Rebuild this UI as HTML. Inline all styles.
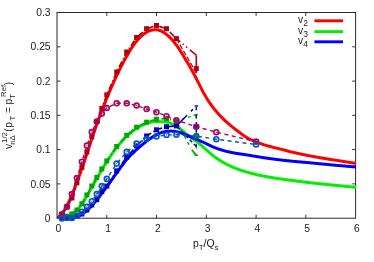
<!DOCTYPE html>
<html><head><meta charset="utf-8"><style>
html,body{margin:0;padding:0;background:#fff;}
body{width:374px;height:262px;position:relative;overflow:hidden;}
svg{display:block;will-change:transform;}
</style></head><body>
<svg width="374" height="262" viewBox="0 0 374 262" style="position:absolute;left:0;top:0">
<rect width="374" height="262" fill="#fff"/>
<defs><clipPath id="c"><rect x="57" y="12" width="299" height="206"/></clipPath></defs>
<g stroke="#2a2a2a" stroke-width="1" fill="none">
<rect x="57.0" y="12.5" width="298.6" height="205.7"/>
</g><g stroke="#333" stroke-width="1" fill="none">
<path d="M106.8,218.2 v-3.4 M106.8,12.5 v3.4"/>
<path d="M156.5,218.2 v-3.4 M156.5,12.5 v3.4"/>
<path d="M206.3,218.2 v-3.4 M206.3,12.5 v3.4"/>
<path d="M256.1,218.2 v-3.4 M256.1,12.5 v3.4"/>
<path d="M305.8,218.2 v-3.4 M305.8,12.5 v3.4"/>
<path d="M57.0,183.9 h3.4 M355.6,183.9 h-3.4"/>
<path d="M57.0,149.6 h3.4 M355.6,149.6 h-3.4"/>
<path d="M57.0,115.3 h3.4 M355.6,115.3 h-3.4"/>
<path d="M57.0,81.1 h3.4 M355.6,81.1 h-3.4"/>
<path d="M57.0,46.8 h3.4 M355.6,46.8 h-3.4"/>
</g>
<g fill="none" stroke-width="3" stroke-linejoin="round" clip-path="url(#c)">
<path d="M57.0,218.20 L57.5,217.78 L58.0,217.36 L58.5,216.92 L59.0,216.47 L59.5,216.00 L60.1,215.51 L60.6,214.99 L61.1,214.44 L61.6,213.87 L62.1,213.26 L62.6,212.61 L63.1,211.93 L63.6,211.22 L64.1,210.47 L64.6,209.69 L65.1,208.87 L65.7,208.02 L66.2,207.13 L66.7,206.21 L67.2,205.25 L67.7,204.26 L68.2,203.24 L68.7,202.19 L69.2,201.11 L69.7,200.00 L70.2,198.87 L70.7,197.71 L71.3,196.52 L71.8,195.32 L72.3,194.09 L72.8,192.84 L73.3,191.57 L73.8,190.29 L74.3,189.00 L74.8,187.69 L75.3,186.37 L75.8,185.03 L76.3,183.70 L76.9,182.35 L77.4,181.00 L77.9,179.64 L78.4,178.27 L78.9,176.89 L79.4,175.51 L79.9,174.12 L80.4,172.71 L80.9,171.30 L81.4,169.87 L81.9,168.42 L82.5,166.96 L83.0,165.49 L83.5,164.01 L84.0,162.52 L84.5,161.01 L85.0,159.50 L85.5,157.98 L86.0,156.45 L86.5,154.93 L87.0,153.40 L87.6,151.86 L88.1,150.33 L88.6,148.80 L89.1,147.27 L89.6,145.74 L90.1,144.20 L90.6,142.67 L91.1,141.14 L91.6,139.61 L92.1,138.08 L92.6,136.55 L93.2,135.02 L93.7,133.50 L94.2,131.98 L94.7,130.47 L95.2,128.97 L95.7,127.47 L96.2,125.99 L96.7,124.53 L97.2,123.07 L97.7,121.63 L98.2,120.21 L98.8,118.80 L99.3,117.40 L99.8,116.02 L100.3,114.65 L100.8,113.30 L101.3,111.95 L101.8,110.62 L102.3,109.29 L102.8,107.98 L103.3,106.68 L103.8,105.39 L104.4,104.11 L104.9,102.84 L105.4,101.58 L105.9,100.33 L106.4,99.09 L106.9,97.85 L107.4,96.63 L107.9,95.42 L108.4,94.21 L108.9,93.01 L109.4,91.83 L110.0,90.64 L110.5,89.47 L111.0,88.30 L111.5,87.15 L112.0,85.99 L112.5,84.85 L113.0,83.71 L113.5,82.59 L114.0,81.47 L114.5,80.35 L115.0,79.25 L115.6,78.15 L116.1,77.06 L116.6,75.98 L117.1,74.90 L117.6,73.83 L118.1,72.77 L118.6,71.71 L119.1,70.67 L119.6,69.62 L120.1,68.59 L120.6,67.56 L121.2,66.55 L121.7,65.54 L122.2,64.54 L122.7,63.55 L123.2,62.57 L123.7,61.60 L124.2,60.65 L124.7,59.70 L125.2,58.77 L125.7,57.85 L126.2,56.94 L126.8,56.05 L127.3,55.16 L127.8,54.28 L128.3,53.42 L128.8,52.56 L129.3,51.72 L129.8,50.89 L130.3,50.06 L130.8,49.25 L131.3,48.45 L131.8,47.67 L132.4,46.90 L132.9,46.15 L133.4,45.41 L133.9,44.69 L134.4,43.99 L134.9,43.31 L135.4,42.65 L135.9,42.01 L136.4,41.39 L136.9,40.78 L137.5,40.19 L138.0,39.62 L138.5,39.06 L139.0,38.52 L139.5,37.99 L140.0,37.48 L140.5,36.98 L141.0,36.49 L141.5,36.02 L142.0,35.56 L142.5,35.12 L143.1,34.70 L143.6,34.29 L144.1,33.90 L144.6,33.53 L145.1,33.17 L145.6,32.84 L146.1,32.52 L146.6,32.22 L147.1,31.93 L147.6,31.67 L148.1,31.42 L148.7,31.19 L149.2,30.98 L149.7,30.78 L150.2,30.60 L150.7,30.44 L151.2,30.29 L151.7,30.17 L152.2,30.05 L152.7,29.96 L153.2,29.88 L153.7,29.82 L154.3,29.77 L154.8,29.75 L155.3,29.74 L155.8,29.74 L156.3,29.77 L156.8,29.81 L157.3,29.88 L157.8,29.97 L158.3,30.07 L158.8,30.20 L159.3,30.35 L159.9,30.52 L160.4,30.71 L160.9,30.92 L161.4,31.15 L161.9,31.41 L162.4,31.68 L162.9,31.97 L163.4,32.28 L163.9,32.61 L164.4,32.95 L164.9,33.30 L165.5,33.67 L166.0,34.06 L166.5,34.46 L167.0,34.87 L167.5,35.29 L168.0,35.73 L168.5,36.19 L169.0,36.66 L169.5,37.14 L170.0,37.64 L170.5,38.16 L171.1,38.69 L171.6,39.24 L172.1,39.80 L172.6,40.37 L173.1,40.96 L173.6,41.57 L174.1,42.19 L174.6,42.82 L175.1,43.46 L175.6,44.12 L176.1,44.79 L176.7,45.48 L177.2,46.18 L177.7,46.90 L178.2,47.63 L178.7,48.37 L179.2,49.13 L179.7,49.91 L180.2,50.69 L180.7,51.49 L181.2,52.31 L181.7,53.13 L182.3,53.96 L182.8,54.79 L183.3,55.63 L183.8,56.48 L184.3,57.33 L184.8,58.18 L185.3,59.04 L185.8,59.90 L186.3,60.76 L186.8,61.62 L187.4,62.49 L187.9,63.35 L188.4,64.22 L188.9,65.10 L189.4,65.98 L189.9,66.86 L190.4,67.74 L190.9,68.63 L191.4,69.53 L191.9,70.43 L192.4,71.34 L193.0,72.26 L193.5,73.19 L194.0,74.13 L194.5,75.09 L195.0,76.05 L195.5,77.03 L196.0,78.01 L196.5,79.01 L197.0,80.01 L197.5,81.02 L198.0,82.04 L198.6,83.05 L199.1,84.07 L199.6,85.09 L200.1,86.10 L200.6,87.11 L201.1,88.12 L201.6,89.11 L202.1,90.09 L202.6,91.06 L203.1,92.02 L203.6,92.96 L204.2,93.89 L204.7,94.80 L205.2,95.69 L205.7,96.56 L206.2,97.42 L206.7,98.25 L207.2,99.07 L207.7,99.87 L208.2,100.66 L208.7,101.43 L209.2,102.19 L209.8,102.93 L210.3,103.66 L210.8,104.38 L211.3,105.08 L211.8,105.77 L212.3,106.45 L212.8,107.12 L213.3,107.78 L213.8,108.43 L214.3,109.07 L214.8,109.70 L215.4,110.32 L215.9,110.93 L216.4,111.53 L216.9,112.12 L217.4,112.70 L217.9,113.28 L218.4,113.85 L218.9,114.40 L219.4,114.96 L219.9,115.50 L220.4,116.04 L221.0,116.57 L221.5,117.09 L222.0,117.61 L222.5,118.12 L223.0,118.62 L223.5,119.12 L224.0,119.61 L224.5,120.10 L225.0,120.58 L225.5,121.05 L226.0,121.52 L226.6,121.99 L227.1,122.45 L227.6,122.90 L228.1,123.35 L228.6,123.80 L229.1,124.24 L229.6,124.68 L230.1,125.11 L230.6,125.54 L231.1,125.96 L231.6,126.38 L232.2,126.80 L232.7,127.21 L233.2,127.61 L233.7,128.02 L234.2,128.42 L234.7,128.81 L235.2,129.20 L235.7,129.59 L236.2,129.98 L236.7,130.37 L237.3,130.75 L237.8,131.14 L238.3,131.52 L238.8,131.90 L239.3,132.28 L239.8,132.66 L240.3,133.04 L240.8,133.42 L241.3,133.80 L241.8,134.18 L242.3,134.56 L242.9,134.93 L243.4,135.30 L243.9,135.66 L244.4,136.01 L244.9,136.36 L245.4,136.70 L245.9,137.02 L246.4,137.34 L246.9,137.65 L247.4,137.94 L247.9,138.23 L248.5,138.51 L249.0,138.77 L249.5,139.03 L250.0,139.28 L250.5,139.53 L251.0,139.76 L251.5,140.00 L252.0,140.22 L252.5,140.44 L253.0,140.66 L253.5,140.88 L254.1,141.09 L254.6,141.30 L255.1,141.51 L255.6,141.72 L256.1,141.92 L256.6,142.12 L257.1,142.32 L257.6,142.52 L258.1,142.71 L258.6,142.90 L259.1,143.09 L259.7,143.28 L260.2,143.46 L260.7,143.64 L261.2,143.82 L261.7,144.00 L262.2,144.17 L262.7,144.33 L263.2,144.50 L263.7,144.66 L264.2,144.82 L264.7,144.98 L265.3,145.13 L265.8,145.28 L266.3,145.43 L266.8,145.58 L267.3,145.72 L267.8,145.86 L268.3,146.00 L268.8,146.14 L269.3,146.28 L269.8,146.42 L270.3,146.55 L270.9,146.69 L271.4,146.82 L271.9,146.95 L272.4,147.08 L272.9,147.21 L273.4,147.34 L273.9,147.47 L274.4,147.60 L274.9,147.73 L275.4,147.85 L275.9,147.98 L276.5,148.11 L277.0,148.24 L277.5,148.37 L278.0,148.49 L278.5,148.62 L279.0,148.75 L279.5,148.88 L280.0,149.01 L280.5,149.14 L281.0,149.27 L281.5,149.40 L282.1,149.53 L282.6,149.66 L283.1,149.79 L283.6,149.92 L284.1,150.05 L284.6,150.18 L285.1,150.31 L285.6,150.44 L286.1,150.57 L286.6,150.70 L287.2,150.83 L287.7,150.96 L288.2,151.09 L288.7,151.22 L289.2,151.34 L289.7,151.47 L290.2,151.60 L290.7,151.72 L291.2,151.85 L291.7,151.98 L292.2,152.10 L292.8,152.22 L293.3,152.35 L293.8,152.47 L294.3,152.59 L294.8,152.71 L295.3,152.83 L295.8,152.95 L296.3,153.07 L296.8,153.18 L297.3,153.30 L297.8,153.41 L298.4,153.53 L298.9,153.64 L299.4,153.75 L299.9,153.86 L300.4,153.97 L300.9,154.08 L301.4,154.19 L301.9,154.29 L302.4,154.40 L302.9,154.51 L303.4,154.61 L304.0,154.71 L304.5,154.82 L305.0,154.92 L305.5,155.02 L306.0,155.12 L306.5,155.22 L307.0,155.32 L307.5,155.42 L308.0,155.52 L308.5,155.62 L309.0,155.71 L309.6,155.81 L310.1,155.91 L310.6,156.00 L311.1,156.10 L311.6,156.19 L312.1,156.29 L312.6,156.38 L313.1,156.47 L313.6,156.57 L314.1,156.66 L314.6,156.75 L315.2,156.84 L315.7,156.93 L316.2,157.02 L316.7,157.11 L317.2,157.20 L317.7,157.29 L318.2,157.38 L318.7,157.47 L319.2,157.56 L319.7,157.65 L320.2,157.74 L320.8,157.82 L321.3,157.91 L321.8,158.00 L322.3,158.08 L322.8,158.17 L323.3,158.25 L323.8,158.34 L324.3,158.42 L324.8,158.51 L325.3,158.59 L325.8,158.67 L326.4,158.76 L326.9,158.84 L327.4,158.92 L327.9,159.00 L328.4,159.08 L328.9,159.16 L329.4,159.24 L329.9,159.32 L330.4,159.40 L330.9,159.48 L331.4,159.56 L332.0,159.64 L332.5,159.72 L333.0,159.80 L333.5,159.88 L334.0,159.96 L334.5,160.04 L335.0,160.12 L335.5,160.20 L336.0,160.28 L336.5,160.36 L337.1,160.44 L337.6,160.52 L338.1,160.60 L338.6,160.68 L339.1,160.76 L339.6,160.84 L340.1,160.92 L340.6,161.00 L341.1,161.08 L341.6,161.16 L342.1,161.24 L342.7,161.32 L343.2,161.40 L343.7,161.48 L344.2,161.56 L344.7,161.64 L345.2,161.72 L345.7,161.80 L346.2,161.88 L346.7,161.96 L347.2,162.04 L347.7,162.12 L348.3,162.20 L348.8,162.28 L349.3,162.35 L349.8,162.43 L350.3,162.51 L350.8,162.59 L351.3,162.67 L351.8,162.75 L352.3,162.83 L352.8,162.91 L353.3,162.99 L353.9,163.07 L354.4,163.15 L354.9,163.23 L355.4,163.31 L355.9,163.38 L356.4,163.46 L356.9,163.54 L357.4,163.62 L357.9,163.70 L358.4,163.78 L358.9,163.86 L359.5,163.94 L360.0,164.02 L360.5,164.10 L361.0,164.18 L361.5,164.26 L362.0,164.34" stroke="#ff0000"/>
<path d="M57.0,218.20 L57.5,218.15 L58.0,218.09 L58.5,218.03 L59.0,217.97 L59.5,217.90 L60.1,217.83 L60.6,217.75 L61.1,217.67 L61.6,217.58 L62.1,217.48 L62.6,217.37 L63.1,217.26 L63.6,217.14 L64.1,217.00 L64.6,216.86 L65.1,216.71 L65.7,216.56 L66.2,216.39 L66.7,216.21 L67.2,216.02 L67.7,215.83 L68.2,215.62 L68.7,215.41 L69.2,215.18 L69.7,214.94 L70.2,214.69 L70.7,214.43 L71.3,214.15 L71.8,213.86 L72.3,213.56 L72.8,213.24 L73.3,212.91 L73.8,212.55 L74.3,212.18 L74.8,211.80 L75.3,211.39 L75.8,210.97 L76.3,210.52 L76.9,210.05 L77.4,209.56 L77.9,209.04 L78.4,208.51 L78.9,207.94 L79.4,207.36 L79.9,206.75 L80.4,206.11 L80.9,205.45 L81.4,204.76 L81.9,204.05 L82.5,203.32 L83.0,202.56 L83.5,201.78 L84.0,200.98 L84.5,200.16 L85.0,199.33 L85.5,198.48 L86.0,197.61 L86.5,196.74 L87.0,195.85 L87.6,194.96 L88.1,194.07 L88.6,193.16 L89.1,192.26 L89.6,191.36 L90.1,190.45 L90.6,189.55 L91.1,188.65 L91.6,187.75 L92.1,186.86 L92.6,185.97 L93.2,185.08 L93.7,184.20 L94.2,183.32 L94.7,182.44 L95.2,181.56 L95.7,180.67 L96.2,179.79 L96.7,178.90 L97.2,178.01 L97.7,177.11 L98.2,176.21 L98.8,175.32 L99.3,174.42 L99.8,173.52 L100.3,172.62 L100.8,171.73 L101.3,170.85 L101.8,169.98 L102.3,169.11 L102.8,168.25 L103.3,167.40 L103.8,166.57 L104.4,165.74 L104.9,164.92 L105.4,164.10 L105.9,163.30 L106.4,162.49 L106.9,161.70 L107.4,160.91 L107.9,160.12 L108.4,159.34 L108.9,158.57 L109.4,157.79 L110.0,157.02 L110.5,156.26 L111.0,155.50 L111.5,154.75 L112.0,154.00 L112.5,153.26 L113.0,152.53 L113.5,151.81 L114.0,151.09 L114.5,150.39 L115.0,149.69 L115.6,149.01 L116.1,148.34 L116.6,147.67 L117.1,147.02 L117.6,146.37 L118.1,145.74 L118.6,145.12 L119.1,144.50 L119.6,143.89 L120.1,143.30 L120.6,142.71 L121.2,142.13 L121.7,141.55 L122.2,140.99 L122.7,140.44 L123.2,139.89 L123.7,139.35 L124.2,138.83 L124.7,138.31 L125.2,137.80 L125.7,137.30 L126.2,136.81 L126.8,136.33 L127.3,135.85 L127.8,135.39 L128.3,134.93 L128.8,134.48 L129.3,134.03 L129.8,133.60 L130.3,133.17 L130.8,132.75 L131.3,132.34 L131.8,131.93 L132.4,131.54 L132.9,131.15 L133.4,130.76 L133.9,130.39 L134.4,130.03 L134.9,129.67 L135.4,129.32 L135.9,128.97 L136.4,128.64 L136.9,128.31 L137.5,127.99 L138.0,127.67 L138.5,127.36 L139.0,127.06 L139.5,126.76 L140.0,126.47 L140.5,126.18 L141.0,125.90 L141.5,125.63 L142.0,125.37 L142.5,125.11 L143.1,124.87 L143.6,124.63 L144.1,124.40 L144.6,124.19 L145.1,123.98 L145.6,123.79 L146.1,123.60 L146.6,123.43 L147.1,123.26 L147.6,123.10 L148.1,122.95 L148.7,122.81 L149.2,122.67 L149.7,122.54 L150.2,122.42 L150.7,122.31 L151.2,122.20 L151.7,122.10 L152.2,122.01 L152.7,121.92 L153.2,121.85 L153.7,121.78 L154.3,121.73 L154.8,121.68 L155.3,121.64 L155.8,121.61 L156.3,121.59 L156.8,121.58 L157.3,121.57 L157.8,121.57 L158.3,121.58 L158.8,121.59 L159.3,121.60 L159.9,121.62 L160.4,121.64 L160.9,121.66 L161.4,121.69 L161.9,121.72 L162.4,121.75 L162.9,121.79 L163.4,121.83 L163.9,121.87 L164.4,121.93 L164.9,121.98 L165.5,122.05 L166.0,122.12 L166.5,122.20 L167.0,122.29 L167.5,122.39 L168.0,122.51 L168.5,122.64 L169.0,122.78 L169.5,122.93 L170.0,123.10 L170.5,123.27 L171.1,123.46 L171.6,123.66 L172.1,123.87 L172.6,124.09 L173.1,124.32 L173.6,124.56 L174.1,124.81 L174.6,125.07 L175.1,125.34 L175.6,125.61 L176.1,125.90 L176.7,126.20 L177.2,126.52 L177.7,126.85 L178.2,127.19 L178.7,127.55 L179.2,127.92 L179.7,128.31 L180.2,128.72 L180.7,129.13 L181.2,129.56 L181.7,129.99 L182.3,130.43 L182.8,130.88 L183.3,131.33 L183.8,131.79 L184.3,132.24 L184.8,132.69 L185.3,133.13 L185.8,133.57 L186.3,134.01 L186.8,134.43 L187.4,134.85 L187.9,135.25 L188.4,135.65 L188.9,136.04 L189.4,136.42 L189.9,136.80 L190.4,137.16 L190.9,137.53 L191.4,137.88 L191.9,138.24 L192.4,138.59 L193.0,138.94 L193.5,139.29 L194.0,139.65 L194.5,140.00 L195.0,140.36 L195.5,140.73 L196.0,141.10 L196.5,141.48 L197.0,141.86 L197.5,142.25 L198.0,142.65 L198.6,143.06 L199.1,143.47 L199.6,143.90 L200.1,144.33 L200.6,144.77 L201.1,145.21 L201.6,145.66 L202.1,146.11 L202.6,146.56 L203.1,147.02 L203.6,147.48 L204.2,147.93 L204.7,148.39 L205.2,148.85 L205.7,149.30 L206.2,149.75 L206.7,150.20 L207.2,150.65 L207.7,151.09 L208.2,151.53 L208.7,151.97 L209.2,152.41 L209.8,152.84 L210.3,153.28 L210.8,153.70 L211.3,154.13 L211.8,154.55 L212.3,154.97 L212.8,155.38 L213.3,155.78 L213.8,156.18 L214.3,156.58 L214.8,156.96 L215.4,157.34 L215.9,157.72 L216.4,158.08 L216.9,158.44 L217.4,158.79 L217.9,159.14 L218.4,159.48 L218.9,159.81 L219.4,160.14 L219.9,160.46 L220.4,160.78 L221.0,161.09 L221.5,161.40 L222.0,161.70 L222.5,162.00 L223.0,162.29 L223.5,162.58 L224.0,162.87 L224.5,163.15 L225.0,163.43 L225.5,163.70 L226.0,163.97 L226.6,164.23 L227.1,164.49 L227.6,164.75 L228.1,165.00 L228.6,165.25 L229.1,165.50 L229.6,165.74 L230.1,165.98 L230.6,166.21 L231.1,166.45 L231.6,166.68 L232.2,166.91 L232.7,167.13 L233.2,167.35 L233.7,167.57 L234.2,167.78 L234.7,167.99 L235.2,168.20 L235.7,168.40 L236.2,168.60 L236.7,168.80 L237.3,168.99 L237.8,169.18 L238.3,169.36 L238.8,169.54 L239.3,169.72 L239.8,169.89 L240.3,170.07 L240.8,170.23 L241.3,170.40 L241.8,170.56 L242.3,170.73 L242.9,170.89 L243.4,171.04 L243.9,171.20 L244.4,171.35 L244.9,171.51 L245.4,171.66 L245.9,171.81 L246.4,171.95 L246.9,172.10 L247.4,172.24 L247.9,172.39 L248.5,172.53 L249.0,172.67 L249.5,172.81 L250.0,172.95 L250.5,173.08 L251.0,173.22 L251.5,173.35 L252.0,173.48 L252.5,173.61 L253.0,173.74 L253.5,173.87 L254.1,174.00 L254.6,174.12 L255.1,174.24 L255.6,174.37 L256.1,174.49 L256.6,174.61 L257.1,174.72 L257.6,174.84 L258.1,174.96 L258.6,175.07 L259.1,175.18 L259.7,175.29 L260.2,175.40 L260.7,175.51 L261.2,175.62 L261.7,175.73 L262.2,175.83 L262.7,175.93 L263.2,176.04 L263.7,176.14 L264.2,176.24 L264.7,176.34 L265.3,176.43 L265.8,176.53 L266.3,176.62 L266.8,176.72 L267.3,176.81 L267.8,176.90 L268.3,176.99 L268.8,177.08 L269.3,177.17 L269.8,177.26 L270.3,177.34 L270.9,177.43 L271.4,177.51 L271.9,177.60 L272.4,177.68 L272.9,177.76 L273.4,177.84 L273.9,177.92 L274.4,178.00 L274.9,178.08 L275.4,178.15 L275.9,178.23 L276.5,178.31 L277.0,178.38 L277.5,178.46 L278.0,178.53 L278.5,178.61 L279.0,178.68 L279.5,178.75 L280.0,178.83 L280.5,178.90 L281.0,178.97 L281.5,179.04 L282.1,179.11 L282.6,179.18 L283.1,179.25 L283.6,179.32 L284.1,179.39 L284.6,179.46 L285.1,179.53 L285.6,179.60 L286.1,179.67 L286.6,179.74 L287.2,179.81 L287.7,179.88 L288.2,179.95 L288.7,180.02 L289.2,180.09 L289.7,180.16 L290.2,180.23 L290.7,180.30 L291.2,180.36 L291.7,180.43 L292.2,180.50 L292.8,180.57 L293.3,180.64 L293.8,180.70 L294.3,180.77 L294.8,180.84 L295.3,180.90 L295.8,180.97 L296.3,181.04 L296.8,181.10 L297.3,181.17 L297.8,181.23 L298.4,181.30 L298.9,181.36 L299.4,181.42 L299.9,181.49 L300.4,181.55 L300.9,181.62 L301.4,181.68 L301.9,181.74 L302.4,181.80 L302.9,181.86 L303.4,181.93 L304.0,181.99 L304.5,182.05 L305.0,182.11 L305.5,182.17 L306.0,182.23 L306.5,182.29 L307.0,182.35 L307.5,182.41 L308.0,182.47 L308.5,182.53 L309.0,182.59 L309.6,182.65 L310.1,182.70 L310.6,182.76 L311.1,182.82 L311.6,182.88 L312.1,182.93 L312.6,182.99 L313.1,183.05 L313.6,183.10 L314.1,183.16 L314.6,183.21 L315.2,183.27 L315.7,183.32 L316.2,183.38 L316.7,183.43 L317.2,183.49 L317.7,183.54 L318.2,183.60 L318.7,183.65 L319.2,183.70 L319.7,183.76 L320.2,183.81 L320.8,183.86 L321.3,183.92 L321.8,183.97 L322.3,184.02 L322.8,184.07 L323.3,184.13 L323.8,184.18 L324.3,184.23 L324.8,184.28 L325.3,184.33 L325.8,184.39 L326.4,184.44 L326.9,184.49 L327.4,184.54 L327.9,184.59 L328.4,184.64 L328.9,184.69 L329.4,184.74 L329.9,184.79 L330.4,184.85 L330.9,184.90 L331.4,184.95 L332.0,185.00 L332.5,185.05 L333.0,185.10 L333.5,185.15 L334.0,185.20 L334.5,185.25 L335.0,185.30 L335.5,185.35 L336.0,185.40 L336.5,185.45 L337.1,185.50 L337.6,185.55 L338.1,185.60 L338.6,185.65 L339.1,185.70 L339.6,185.75 L340.1,185.80 L340.6,185.85 L341.1,185.90 L341.6,185.95 L342.1,186.00 L342.7,186.05 L343.2,186.10 L343.7,186.15 L344.2,186.19 L344.7,186.24 L345.2,186.29 L345.7,186.34 L346.2,186.39 L346.7,186.44 L347.2,186.48 L347.7,186.53 L348.3,186.58 L348.8,186.63 L349.3,186.68 L349.8,186.72 L350.3,186.77 L350.8,186.82 L351.3,186.87 L351.8,186.91 L352.3,186.96 L352.8,187.01 L353.3,187.06 L353.9,187.10 L354.4,187.15 L354.9,187.20 L355.4,187.25 L355.9,187.29 L356.4,187.34 L356.9,187.39 L357.4,187.44 L357.9,187.48 L358.4,187.53 L358.9,187.58 L359.5,187.63 L360.0,187.68 L360.5,187.73 L361.0,187.77 L361.5,187.82 L362.0,187.87" stroke="#00f000"/>
<path d="M57.0,218.20 L57.5,218.20 L58.0,218.20 L58.5,218.20 L59.0,218.20 L59.5,218.20 L60.1,218.20 L60.6,218.20 L61.1,218.20 L61.6,218.20 L62.1,218.20 L62.6,218.20 L63.1,218.20 L63.6,218.20 L64.1,218.20 L64.6,218.20 L65.1,218.19 L65.7,218.19 L66.2,218.18 L66.7,218.18 L67.2,218.17 L67.7,218.16 L68.2,218.14 L68.7,218.12 L69.2,218.10 L69.7,218.07 L70.2,218.04 L70.7,218.00 L71.3,217.95 L71.8,217.89 L72.3,217.83 L72.8,217.75 L73.3,217.66 L73.8,217.56 L74.3,217.45 L74.8,217.32 L75.3,217.18 L75.8,217.03 L76.3,216.87 L76.9,216.69 L77.4,216.50 L77.9,216.30 L78.4,216.08 L78.9,215.85 L79.4,215.60 L79.9,215.34 L80.4,215.07 L80.9,214.79 L81.4,214.49 L81.9,214.17 L82.5,213.85 L83.0,213.51 L83.5,213.15 L84.0,212.79 L84.5,212.41 L85.0,212.01 L85.5,211.61 L86.0,211.19 L86.5,210.76 L87.0,210.31 L87.6,209.86 L88.1,209.39 L88.6,208.91 L89.1,208.42 L89.6,207.92 L90.1,207.41 L90.6,206.88 L91.1,206.35 L91.6,205.81 L92.1,205.26 L92.6,204.71 L93.2,204.14 L93.7,203.56 L94.2,202.98 L94.7,202.39 L95.2,201.79 L95.7,201.18 L96.2,200.56 L96.7,199.93 L97.2,199.29 L97.7,198.64 L98.2,197.99 L98.8,197.33 L99.3,196.67 L99.8,196.00 L100.3,195.32 L100.8,194.65 L101.3,193.98 L101.8,193.30 L102.3,192.63 L102.8,191.96 L103.3,191.29 L103.8,190.62 L104.4,189.95 L104.9,189.27 L105.4,188.60 L105.9,187.93 L106.4,187.25 L106.9,186.57 L107.4,185.88 L107.9,185.19 L108.4,184.50 L108.9,183.80 L109.4,183.10 L110.0,182.39 L110.5,181.68 L111.0,180.97 L111.5,180.26 L112.0,179.54 L112.5,178.82 L113.0,178.11 L113.5,177.39 L114.0,176.67 L114.5,175.96 L115.0,175.24 L115.6,174.52 L116.1,173.81 L116.6,173.09 L117.1,172.38 L117.6,171.66 L118.1,170.95 L118.6,170.23 L119.1,169.52 L119.6,168.81 L120.1,168.10 L120.6,167.39 L121.2,166.68 L121.7,165.98 L122.2,165.29 L122.7,164.60 L123.2,163.92 L123.7,163.24 L124.2,162.58 L124.7,161.93 L125.2,161.29 L125.7,160.67 L126.2,160.05 L126.8,159.45 L127.3,158.86 L127.8,158.29 L128.3,157.72 L128.8,157.17 L129.3,156.63 L129.8,156.09 L130.3,155.57 L130.8,155.06 L131.3,154.55 L131.8,154.05 L132.4,153.56 L132.9,153.07 L133.4,152.58 L133.9,152.11 L134.4,151.63 L134.9,151.16 L135.4,150.69 L135.9,150.23 L136.4,149.76 L136.9,149.30 L137.5,148.85 L138.0,148.39 L138.5,147.94 L139.0,147.49 L139.5,147.04 L140.0,146.60 L140.5,146.16 L141.0,145.72 L141.5,145.29 L142.0,144.86 L142.5,144.43 L143.1,144.01 L143.6,143.60 L144.1,143.18 L144.6,142.78 L145.1,142.37 L145.6,141.97 L146.1,141.58 L146.6,141.19 L147.1,140.81 L147.6,140.43 L148.1,140.05 L148.7,139.68 L149.2,139.32 L149.7,138.96 L150.2,138.61 L150.7,138.26 L151.2,137.92 L151.7,137.59 L152.2,137.26 L152.7,136.93 L153.2,136.62 L153.7,136.31 L154.3,136.00 L154.8,135.70 L155.3,135.41 L155.8,135.13 L156.3,134.85 L156.8,134.58 L157.3,134.32 L157.8,134.07 L158.3,133.83 L158.8,133.61 L159.3,133.39 L159.9,133.18 L160.4,132.98 L160.9,132.79 L161.4,132.62 L161.9,132.45 L162.4,132.29 L162.9,132.14 L163.4,132.00 L163.9,131.87 L164.4,131.75 L164.9,131.65 L165.5,131.55 L166.0,131.46 L166.5,131.39 L167.0,131.32 L167.5,131.27 L168.0,131.22 L168.5,131.18 L169.0,131.15 L169.5,131.13 L170.0,131.11 L170.5,131.10 L171.1,131.10 L171.6,131.11 L172.1,131.13 L172.6,131.16 L173.1,131.19 L173.6,131.24 L174.1,131.29 L174.6,131.36 L175.1,131.44 L175.6,131.52 L176.1,131.61 L176.7,131.72 L177.2,131.83 L177.7,131.95 L178.2,132.08 L178.7,132.22 L179.2,132.36 L179.7,132.52 L180.2,132.68 L180.7,132.84 L181.2,133.01 L181.7,133.19 L182.3,133.37 L182.8,133.55 L183.3,133.74 L183.8,133.94 L184.3,134.13 L184.8,134.33 L185.3,134.54 L185.8,134.74 L186.3,134.95 L186.8,135.16 L187.4,135.37 L187.9,135.59 L188.4,135.80 L188.9,136.02 L189.4,136.23 L189.9,136.45 L190.4,136.67 L190.9,136.89 L191.4,137.10 L191.9,137.32 L192.4,137.54 L193.0,137.75 L193.5,137.97 L194.0,138.19 L194.5,138.41 L195.0,138.63 L195.5,138.85 L196.0,139.07 L196.5,139.29 L197.0,139.51 L197.5,139.73 L198.0,139.95 L198.6,140.17 L199.1,140.40 L199.6,140.62 L200.1,140.84 L200.6,141.07 L201.1,141.30 L201.6,141.52 L202.1,141.75 L202.6,141.98 L203.1,142.21 L203.6,142.44 L204.2,142.67 L204.7,142.91 L205.2,143.14 L205.7,143.38 L206.2,143.62 L206.7,143.86 L207.2,144.11 L207.7,144.35 L208.2,144.60 L208.7,144.85 L209.2,145.10 L209.8,145.35 L210.3,145.59 L210.8,145.84 L211.3,146.08 L211.8,146.32 L212.3,146.56 L212.8,146.79 L213.3,147.02 L213.8,147.24 L214.3,147.46 L214.8,147.67 L215.4,147.87 L215.9,148.07 L216.4,148.26 L216.9,148.45 L217.4,148.63 L217.9,148.81 L218.4,148.98 L218.9,149.15 L219.4,149.32 L219.9,149.48 L220.4,149.64 L221.0,149.80 L221.5,149.95 L222.0,150.10 L222.5,150.25 L223.0,150.40 L223.5,150.54 L224.0,150.68 L224.5,150.82 L225.0,150.96 L225.5,151.09 L226.0,151.22 L226.6,151.35 L227.1,151.48 L227.6,151.60 L228.1,151.72 L228.6,151.84 L229.1,151.96 L229.6,152.07 L230.1,152.18 L230.6,152.29 L231.1,152.40 L231.6,152.50 L232.2,152.60 L232.7,152.70 L233.2,152.80 L233.7,152.89 L234.2,152.99 L234.7,153.08 L235.2,153.16 L235.7,153.25 L236.2,153.34 L236.7,153.42 L237.3,153.50 L237.8,153.58 L238.3,153.66 L238.8,153.74 L239.3,153.81 L239.8,153.89 L240.3,153.97 L240.8,154.04 L241.3,154.11 L241.8,154.19 L242.3,154.26 L242.9,154.34 L243.4,154.41 L243.9,154.48 L244.4,154.56 L244.9,154.64 L245.4,154.71 L245.9,154.79 L246.4,154.87 L246.9,154.94 L247.4,155.02 L247.9,155.10 L248.5,155.18 L249.0,155.27 L249.5,155.35 L250.0,155.43 L250.5,155.52 L251.0,155.60 L251.5,155.69 L252.0,155.77 L252.5,155.86 L253.0,155.94 L253.5,156.03 L254.1,156.12 L254.6,156.20 L255.1,156.29 L255.6,156.38 L256.1,156.46 L256.6,156.55 L257.1,156.64 L257.6,156.72 L258.1,156.81 L258.6,156.89 L259.1,156.98 L259.7,157.06 L260.2,157.14 L260.7,157.23 L261.2,157.31 L261.7,157.39 L262.2,157.47 L262.7,157.55 L263.2,157.62 L263.7,157.70 L264.2,157.78 L264.7,157.85 L265.3,157.93 L265.8,158.00 L266.3,158.07 L266.8,158.15 L267.3,158.22 L267.8,158.29 L268.3,158.36 L268.8,158.43 L269.3,158.50 L269.8,158.57 L270.3,158.64 L270.9,158.71 L271.4,158.78 L271.9,158.84 L272.4,158.91 L272.9,158.98 L273.4,159.04 L273.9,159.11 L274.4,159.18 L274.9,159.24 L275.4,159.31 L275.9,159.37 L276.5,159.44 L277.0,159.50 L277.5,159.56 L278.0,159.63 L278.5,159.69 L279.0,159.75 L279.5,159.81 L280.0,159.88 L280.5,159.94 L281.0,160.00 L281.5,160.06 L282.1,160.12 L282.6,160.18 L283.1,160.24 L283.6,160.29 L284.1,160.35 L284.6,160.41 L285.1,160.47 L285.6,160.52 L286.1,160.58 L286.6,160.64 L287.2,160.69 L287.7,160.75 L288.2,160.80 L288.7,160.86 L289.2,160.91 L289.7,160.96 L290.2,161.01 L290.7,161.07 L291.2,161.12 L291.7,161.17 L292.2,161.22 L292.8,161.27 L293.3,161.32 L293.8,161.37 L294.3,161.41 L294.8,161.46 L295.3,161.51 L295.8,161.55 L296.3,161.60 L296.8,161.65 L297.3,161.69 L297.8,161.74 L298.4,161.78 L298.9,161.83 L299.4,161.87 L299.9,161.92 L300.4,161.96 L300.9,162.00 L301.4,162.05 L301.9,162.09 L302.4,162.13 L302.9,162.18 L303.4,162.22 L304.0,162.27 L304.5,162.31 L305.0,162.35 L305.5,162.40 L306.0,162.44 L306.5,162.49 L307.0,162.53 L307.5,162.58 L308.0,162.62 L308.5,162.67 L309.0,162.72 L309.6,162.76 L310.1,162.81 L310.6,162.86 L311.1,162.90 L311.6,162.95 L312.1,163.00 L312.6,163.05 L313.1,163.10 L313.6,163.14 L314.1,163.19 L314.6,163.24 L315.2,163.29 L315.7,163.34 L316.2,163.39 L316.7,163.44 L317.2,163.49 L317.7,163.54 L318.2,163.59 L318.7,163.64 L319.2,163.69 L319.7,163.74 L320.2,163.79 L320.8,163.84 L321.3,163.89 L321.8,163.94 L322.3,163.99 L322.8,164.04 L323.3,164.09 L323.8,164.14 L324.3,164.19 L324.8,164.23 L325.3,164.28 L325.8,164.33 L326.4,164.38 L326.9,164.43 L327.4,164.48 L327.9,164.53 L328.4,164.58 L328.9,164.63 L329.4,164.68 L329.9,164.73 L330.4,164.77 L330.9,164.82 L331.4,164.87 L332.0,164.92 L332.5,164.96 L333.0,165.01 L333.5,165.06 L334.0,165.11 L334.5,165.15 L335.0,165.20 L335.5,165.25 L336.0,165.29 L336.5,165.34 L337.1,165.38 L337.6,165.43 L338.1,165.47 L338.6,165.52 L339.1,165.56 L339.6,165.61 L340.1,165.65 L340.6,165.70 L341.1,165.74 L341.6,165.79 L342.1,165.83 L342.7,165.88 L343.2,165.92 L343.7,165.97 L344.2,166.01 L344.7,166.05 L345.2,166.10 L345.7,166.14 L346.2,166.18 L346.7,166.23 L347.2,166.27 L347.7,166.31 L348.3,166.36 L348.8,166.40 L349.3,166.44 L349.8,166.49 L350.3,166.53 L350.8,166.57 L351.3,166.61 L351.8,166.66 L352.3,166.70 L352.8,166.74 L353.3,166.78 L353.9,166.83 L354.4,166.87 L354.9,166.91 L355.4,166.95 L355.9,166.99 L356.4,167.04 L356.9,167.08 L357.4,167.12 L357.9,167.17 L358.4,167.21 L358.9,167.25 L359.5,167.30 L360.0,167.34 L360.5,167.38 L361.0,167.43 L361.5,167.47 L362.0,167.51" stroke="#0000ff"/>
</g>
<path d="M62.0,214.4 L67.0,207.0 L71.9,198.0 L76.9,182.8 L81.9,167.3 L86.9,152.0 L91.8,136.8 L96.8,121.6 L101.8,108.5 L106.8,94.8 L116.7,72.0 L126.7,52.0 L136.6,37.5 L146.6,28.7 L156.5,25.5 L166.5,28.7 L176.4,38.6" fill="none" stroke="#b00010" stroke-width="1.7" stroke-dasharray="6,2.5,1.2,2.5"/>
<path d="M176.4,38.6 L196.3,55.2" fill="none" stroke="#b00010" stroke-width="1.5" stroke-dasharray="5,3,1.5,3,1.5,3.5,9" stroke-dashoffset="0"/>
<path d="M176.4,38.6 L196.3,73.0" fill="none" stroke="#b00010" stroke-width="1.2" stroke-dasharray="5,2" stroke-dashoffset="0"/>
<path d="M196.3,55.2 L196.3,73.0" fill="none" stroke="#b00010" stroke-width="1.6"/>
<rect x="59.5" y="211.9" width="5.0" height="5.0" fill="#b00010"/><rect x="64.5" y="204.5" width="5.0" height="5.0" fill="#b00010"/><rect x="69.4" y="195.5" width="5.0" height="5.0" fill="#b00010"/><rect x="74.4" y="180.3" width="5.0" height="5.0" fill="#b00010"/><rect x="79.4" y="164.8" width="5.0" height="5.0" fill="#b00010"/><rect x="84.4" y="149.5" width="5.0" height="5.0" fill="#b00010"/><rect x="89.3" y="134.3" width="5.0" height="5.0" fill="#b00010"/><rect x="94.3" y="119.1" width="5.0" height="5.0" fill="#b00010"/><rect x="99.3" y="106.0" width="5.0" height="5.0" fill="#b00010"/><rect x="104.3" y="92.3" width="5.0" height="5.0" fill="#b00010"/><rect x="114.2" y="69.5" width="5.0" height="5.0" fill="#b00010"/><rect x="124.2" y="49.5" width="5.0" height="5.0" fill="#b00010"/><rect x="134.1" y="35.0" width="5.0" height="5.0" fill="#b00010"/><rect x="144.1" y="26.2" width="5.0" height="5.0" fill="#b00010"/><rect x="154.0" y="23.0" width="5.0" height="5.0" fill="#b00010"/><rect x="164.0" y="26.2" width="5.0" height="5.0" fill="#b00010"/><rect x="173.9" y="36.1" width="5.0" height="5.0" fill="#b00010"/><rect x="193.8" y="66.1" width="5.0" height="5.0" fill="#b00010"/>
<path d="M62.0,217.6 L67.0,216.2 L71.9,213.9 L76.9,210.0 L81.9,203.7 L86.9,194.9 L91.8,186.0 L96.8,177.5 L101.8,168.9 L106.8,160.9 L116.7,146.5 L126.7,135.3 L136.6,127.2 L146.6,122.2 L156.5,119.2 L166.5,118.6 L176.4,121.0" fill="none" stroke="#00a800" stroke-width="1.7" stroke-dasharray="6,2.5,1.2,2.5"/>
<path d="M176.4,121.0 L196.3,114.6" fill="none" stroke="#00a800" stroke-width="1.3" stroke-dasharray="3,3" stroke-dashoffset="0"/>
<path d="M176.4,121.0 L191.0,148.4" fill="none" stroke="#00a800" stroke-width="1.5" stroke-dasharray="3,3.8" stroke-dashoffset="-3.4"/>
<path d="M191.8,149.8 L196.0,155.1" fill="none" stroke="#00a800" stroke-width="1.8"/>
<path d="M194.7,155.1 L197.9,155.1" fill="none" stroke="#00a800" stroke-width="1.6"/>
<path d="M196.3,114.6 L196.3,155.1" fill="none" stroke="#00a800" stroke-width="1.3" stroke-dasharray="4.4,5.5" stroke-dashoffset="0"/>
<path d="M194.7,114.6 L197.9,114.6" fill="none" stroke="#00a800" stroke-width="1.3"/>
<rect x="59.5" y="215.1" width="5.0" height="5.0" fill="#00a800"/><rect x="64.5" y="213.7" width="5.0" height="5.0" fill="#00a800"/><rect x="69.4" y="211.4" width="5.0" height="5.0" fill="#00a800"/><rect x="74.4" y="207.5" width="5.0" height="5.0" fill="#00a800"/><rect x="79.4" y="201.2" width="5.0" height="5.0" fill="#00a800"/><rect x="84.4" y="192.4" width="5.0" height="5.0" fill="#00a800"/><rect x="89.3" y="183.5" width="5.0" height="5.0" fill="#00a800"/><rect x="94.3" y="175.0" width="5.0" height="5.0" fill="#00a800"/><rect x="99.3" y="166.4" width="5.0" height="5.0" fill="#00a800"/><rect x="104.3" y="158.4" width="5.0" height="5.0" fill="#00a800"/><rect x="114.2" y="144.0" width="5.0" height="5.0" fill="#00a800"/><rect x="124.2" y="132.8" width="5.0" height="5.0" fill="#00a800"/><rect x="134.1" y="124.7" width="5.0" height="5.0" fill="#00a800"/><rect x="144.1" y="119.7" width="5.0" height="5.0" fill="#00a800"/><rect x="154.0" y="116.7" width="5.0" height="5.0" fill="#00a800"/><rect x="164.0" y="116.1" width="5.0" height="5.0" fill="#00a800"/><rect x="173.9" y="118.5" width="5.0" height="5.0" fill="#00a800"/><rect x="193.8" y="133.5" width="5.0" height="5.0" fill="#00a800"/>
<path d="M62.0,218.0 L67.0,218.0 L71.9,218.0 L76.9,216.5 L81.9,214.0 L86.9,210.0 L91.8,205.0 L96.8,199.6 L101.8,191.6 L106.8,186.1 L116.7,170.9 L126.7,157.2 L136.6,146.0 L146.6,136.0 L156.5,129.8 L166.5,126.7 L176.4,125.9" fill="none" stroke="#0000c0" stroke-width="1.7" stroke-dasharray="6,2.5,1.2,2.5"/>
<path d="M176.4,125.9 L196.3,106.0" fill="none" stroke="#0000c0" stroke-width="1.5" stroke-dasharray="15,5.5,3,10" stroke-dashoffset="0"/>
<path d="M176.4,125.9 L196.3,146.6" fill="none" stroke="#0000c0" stroke-width="1.4" stroke-dasharray="3.5,2.5" stroke-dashoffset="-1.25"/>
<path d="M196.3,107.0 L196.3,146.6" fill="none" stroke="#0000c0" stroke-width="1.4" stroke-dasharray="3.3,4.2" stroke-dashoffset="0"/>
<path d="M194.5,106.0 L198.1,106.0" fill="none" stroke="#0000c0" stroke-width="1.4"/>
<rect x="59.5" y="215.5" width="5.0" height="5.0" fill="#0000c0"/><rect x="64.5" y="215.5" width="5.0" height="5.0" fill="#0000c0"/><rect x="69.4" y="215.5" width="5.0" height="5.0" fill="#0000c0"/><rect x="74.4" y="214.0" width="5.0" height="5.0" fill="#0000c0"/><rect x="79.4" y="211.5" width="5.0" height="5.0" fill="#0000c0"/><rect x="84.4" y="207.5" width="5.0" height="5.0" fill="#0000c0"/><rect x="89.3" y="202.5" width="5.0" height="5.0" fill="#0000c0"/><rect x="94.3" y="197.1" width="5.0" height="5.0" fill="#0000c0"/><rect x="99.3" y="189.1" width="5.0" height="5.0" fill="#0000c0"/><rect x="104.3" y="183.6" width="5.0" height="5.0" fill="#0000c0"/><rect x="114.2" y="168.4" width="5.0" height="5.0" fill="#0000c0"/><rect x="124.2" y="154.7" width="5.0" height="5.0" fill="#0000c0"/><rect x="134.1" y="143.5" width="5.0" height="5.0" fill="#0000c0"/><rect x="144.1" y="133.5" width="5.0" height="5.0" fill="#0000c0"/><rect x="154.0" y="127.3" width="5.0" height="5.0" fill="#0000c0"/><rect x="164.0" y="124.2" width="5.0" height="5.0" fill="#0000c0"/><rect x="173.9" y="123.4" width="5.0" height="5.0" fill="#0000c0"/><rect x="193.8" y="124.1" width="5.0" height="5.0" fill="#0000c0"/>
<path d="M62.0,214.4 L67.0,206.8 L71.9,194.0 L76.9,178.0 L81.9,161.7 L86.9,145.6 L91.8,132.0 L96.8,121.6 L101.8,113.6 L106.8,108.0 L116.7,103.3 L126.7,103.3 L136.6,105.5 L146.6,109.0 L156.5,112.2 L166.5,116.2 L176.4,120.2 L196.3,126.7 L216.3,132.2 L256.1,141.6" fill="none" stroke="#a8085f" stroke-width="1.4" stroke-dasharray="4,3.5"/>
<circle cx="62.0" cy="214.4" r="2.45" fill="none" stroke="#a8085f" stroke-width="1.7"/><circle cx="62.0" cy="214.4" r="0.65" fill="#a8085f"/><circle cx="67.0" cy="206.8" r="2.45" fill="none" stroke="#a8085f" stroke-width="1.7"/><circle cx="67.0" cy="206.8" r="0.65" fill="#a8085f"/><circle cx="71.9" cy="194.0" r="2.45" fill="none" stroke="#a8085f" stroke-width="1.7"/><circle cx="71.9" cy="194.0" r="0.65" fill="#a8085f"/><circle cx="76.9" cy="178.0" r="2.45" fill="none" stroke="#a8085f" stroke-width="1.7"/><circle cx="76.9" cy="178.0" r="0.65" fill="#a8085f"/><circle cx="81.9" cy="161.7" r="2.45" fill="none" stroke="#a8085f" stroke-width="1.7"/><circle cx="81.9" cy="161.7" r="0.65" fill="#a8085f"/><circle cx="86.9" cy="145.6" r="2.45" fill="none" stroke="#a8085f" stroke-width="1.7"/><circle cx="86.9" cy="145.6" r="0.65" fill="#a8085f"/><circle cx="91.8" cy="132.0" r="2.45" fill="none" stroke="#a8085f" stroke-width="1.7"/><circle cx="91.8" cy="132.0" r="0.65" fill="#a8085f"/><circle cx="96.8" cy="121.6" r="2.45" fill="none" stroke="#a8085f" stroke-width="1.7"/><circle cx="96.8" cy="121.6" r="0.65" fill="#a8085f"/><circle cx="101.8" cy="113.6" r="2.45" fill="none" stroke="#a8085f" stroke-width="1.7"/><circle cx="101.8" cy="113.6" r="0.65" fill="#a8085f"/><circle cx="106.8" cy="108.0" r="2.45" fill="none" stroke="#a8085f" stroke-width="1.7"/><circle cx="106.8" cy="108.0" r="0.65" fill="#a8085f"/><circle cx="116.7" cy="103.3" r="2.45" fill="none" stroke="#a8085f" stroke-width="1.7"/><circle cx="116.7" cy="103.3" r="0.65" fill="#a8085f"/><circle cx="126.7" cy="103.3" r="2.45" fill="none" stroke="#a8085f" stroke-width="1.7"/><circle cx="126.7" cy="103.3" r="0.65" fill="#a8085f"/><circle cx="136.6" cy="105.5" r="2.45" fill="none" stroke="#a8085f" stroke-width="1.7"/><circle cx="136.6" cy="105.5" r="0.65" fill="#a8085f"/><circle cx="146.6" cy="109.0" r="2.45" fill="none" stroke="#a8085f" stroke-width="1.7"/><circle cx="146.6" cy="109.0" r="0.65" fill="#a8085f"/><circle cx="156.5" cy="112.2" r="2.45" fill="none" stroke="#a8085f" stroke-width="1.7"/><circle cx="156.5" cy="112.2" r="0.65" fill="#a8085f"/><circle cx="166.5" cy="116.2" r="2.45" fill="none" stroke="#a8085f" stroke-width="1.7"/><circle cx="166.5" cy="116.2" r="0.65" fill="#a8085f"/><circle cx="176.4" cy="120.2" r="2.45" fill="none" stroke="#a8085f" stroke-width="1.7"/><circle cx="176.4" cy="120.2" r="0.65" fill="#a8085f"/><circle cx="196.3" cy="126.7" r="2.45" fill="none" stroke="#a8085f" stroke-width="1.7"/><circle cx="196.3" cy="126.7" r="0.65" fill="#a8085f"/><circle cx="216.3" cy="132.2" r="2.45" fill="none" stroke="#a8085f" stroke-width="1.7"/><circle cx="216.3" cy="132.2" r="0.65" fill="#a8085f"/><circle cx="256.1" cy="141.6" r="2.45" fill="none" stroke="#a8085f" stroke-width="1.7"/><circle cx="256.1" cy="141.6" r="0.65" fill="#a8085f"/>
<path d="M62.0,218.5 L67.0,218.0 L71.9,218.0 L76.9,215.7 L81.9,211.7 L86.9,206.8 L91.8,201.2 L96.8,194.0 L101.8,186.1 L106.8,178.9 L116.7,163.6 L126.7,151.9 L136.6,143.6 L146.6,139.0 L156.5,136.4 L166.5,135.0 L176.4,134.7 L196.3,136.2 L216.3,139.2 L256.1,144.5" fill="none" stroke="#0a5ab4" stroke-width="1.4" stroke-dasharray="4,3.5"/>
<circle cx="62.0" cy="218.5" r="2.45" fill="none" stroke="#0a5ab4" stroke-width="1.7"/><circle cx="62.0" cy="218.5" r="0.65" fill="#0a5ab4"/><circle cx="67.0" cy="218.0" r="2.45" fill="none" stroke="#0a5ab4" stroke-width="1.7"/><circle cx="67.0" cy="218.0" r="0.65" fill="#0a5ab4"/><circle cx="71.9" cy="218.0" r="2.45" fill="none" stroke="#0a5ab4" stroke-width="1.7"/><circle cx="71.9" cy="218.0" r="0.65" fill="#0a5ab4"/><circle cx="76.9" cy="215.7" r="2.45" fill="none" stroke="#0a5ab4" stroke-width="1.7"/><circle cx="76.9" cy="215.7" r="0.65" fill="#0a5ab4"/><circle cx="81.9" cy="211.7" r="2.45" fill="none" stroke="#0a5ab4" stroke-width="1.7"/><circle cx="81.9" cy="211.7" r="0.65" fill="#0a5ab4"/><circle cx="86.9" cy="206.8" r="2.45" fill="none" stroke="#0a5ab4" stroke-width="1.7"/><circle cx="86.9" cy="206.8" r="0.65" fill="#0a5ab4"/><circle cx="91.8" cy="201.2" r="2.45" fill="none" stroke="#0a5ab4" stroke-width="1.7"/><circle cx="91.8" cy="201.2" r="0.65" fill="#0a5ab4"/><circle cx="96.8" cy="194.0" r="2.45" fill="none" stroke="#0a5ab4" stroke-width="1.7"/><circle cx="96.8" cy="194.0" r="0.65" fill="#0a5ab4"/><circle cx="101.8" cy="186.1" r="2.45" fill="none" stroke="#0a5ab4" stroke-width="1.7"/><circle cx="101.8" cy="186.1" r="0.65" fill="#0a5ab4"/><circle cx="106.8" cy="178.9" r="2.45" fill="none" stroke="#0a5ab4" stroke-width="1.7"/><circle cx="106.8" cy="178.9" r="0.65" fill="#0a5ab4"/><circle cx="116.7" cy="163.6" r="2.45" fill="none" stroke="#0a5ab4" stroke-width="1.7"/><circle cx="116.7" cy="163.6" r="0.65" fill="#0a5ab4"/><circle cx="126.7" cy="151.9" r="2.45" fill="none" stroke="#0a5ab4" stroke-width="1.7"/><circle cx="126.7" cy="151.9" r="0.65" fill="#0a5ab4"/><circle cx="136.6" cy="143.6" r="2.45" fill="none" stroke="#0a5ab4" stroke-width="1.7"/><circle cx="136.6" cy="143.6" r="0.65" fill="#0a5ab4"/><circle cx="146.6" cy="139.0" r="2.45" fill="none" stroke="#0a5ab4" stroke-width="1.7"/><circle cx="146.6" cy="139.0" r="0.65" fill="#0a5ab4"/><circle cx="156.5" cy="136.4" r="2.45" fill="none" stroke="#0a5ab4" stroke-width="1.7"/><circle cx="156.5" cy="136.4" r="0.65" fill="#0a5ab4"/><circle cx="166.5" cy="135.0" r="2.45" fill="none" stroke="#0a5ab4" stroke-width="1.7"/><circle cx="166.5" cy="135.0" r="0.65" fill="#0a5ab4"/><circle cx="176.4" cy="134.7" r="2.45" fill="none" stroke="#0a5ab4" stroke-width="1.7"/><circle cx="176.4" cy="134.7" r="0.65" fill="#0a5ab4"/><circle cx="196.3" cy="136.2" r="2.45" fill="none" stroke="#0a5ab4" stroke-width="1.7"/><circle cx="196.3" cy="136.2" r="0.65" fill="#0a5ab4"/><circle cx="216.3" cy="139.2" r="2.45" fill="none" stroke="#0a5ab4" stroke-width="1.7"/><circle cx="216.3" cy="139.2" r="0.65" fill="#0a5ab4"/><circle cx="256.1" cy="144.5" r="2.45" fill="none" stroke="#0a5ab4" stroke-width="1.7"/><circle cx="256.1" cy="144.5" r="0.65" fill="#0a5ab4"/>
<path d="M314.4,20.8 H343" stroke="#ff0000" stroke-width="2.9"/>
<path d="M314.4,31.6 H343" stroke="#00f000" stroke-width="2.9"/>
<path d="M314.4,41.8 H343" stroke="#0000ff" stroke-width="2.9"/>
<g font-family="Liberation Sans, sans-serif" font-size="10.3" fill="#1a1a1a">
<text x="50.6" y="221.8" text-anchor="end">0</text>
<text x="50.6" y="187.5" text-anchor="end">0.05</text>
<text x="50.6" y="153.2" text-anchor="end">0.1</text>
<text x="50.6" y="118.9" text-anchor="end">0.15</text>
<text x="50.6" y="84.7" text-anchor="end">0.2</text>
<text x="50.6" y="50.4" text-anchor="end">0.25</text>
<text x="50.6" y="16.1" text-anchor="end">0.3</text>
<text x="58.3" y="232.3" text-anchor="middle">0</text>
<text x="108.1" y="232.3" text-anchor="middle">1</text>
<text x="157.8" y="232.3" text-anchor="middle">2</text>
<text x="207.6" y="232.3" text-anchor="middle">3</text>
<text x="257.4" y="232.3" text-anchor="middle">4</text>
<text x="307.1" y="232.3" text-anchor="middle">5</text>
<text x="356.9" y="232.3" text-anchor="middle">6</text>
<text x="298.1" y="23.2">v<tspan font-size="8.5" dy="2.9">2</tspan></text>
<text x="298.1" y="34.0">v<tspan font-size="8.5" dy="2.9">3</tspan></text>
<text x="298.1" y="44.2">v<tspan font-size="8.5" dy="2.9">4</tspan></text>
<text x="192.9" y="246.6" font-size="10.4">p<tspan font-size="8" dy="3.2">T</tspan><tspan dy="-3.2">/Q</tspan><tspan font-size="8" dy="3.2">s</tspan></text>
<g transform="translate(12,149.3) rotate(-90)">
<text x="0.4" y="0">v</text>
<text x="4.5" y="3.3" font-size="7.8">n&#916;</text>
<text x="6.4" y="-5.3" font-size="7.8">1/2</text>
<text x="17.6" y="0">(</text><text x="21.6" y="0">p</text>
<text x="28.8" y="2.8" font-size="7.8">T</text>
<text x="36.2" y="0">=</text>
<text x="44.8" y="0">p</text>
<text x="50.5" y="2.8" font-size="7.8">T</text>
<text x="52.4" y="-5.9" font-size="7.8">Ref</text>
<text x="64.0" y="0">)</text>
</g>
</g>
</svg>
</body></html>
